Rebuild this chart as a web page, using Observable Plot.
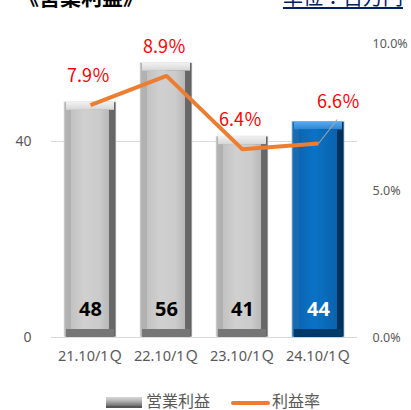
<!DOCTYPE html>
<html><head><meta charset="utf-8">
<script src="https://cdn.jsdelivr.net/npm/d3@7"></script>
<script src="https://cdn.jsdelivr.net/npm/@observablehq/plot@0.6"></script>
<style>
body{margin:0;width:411px;height:410px;overflow:hidden;background:#fff;position:relative;font-family:"Noto Sans","Noto Sans CJK JP",sans-serif}
#chart{position:absolute;left:0;top:0}
.t1{position:absolute;left:18px;top:-19px;font:bold 21px "Noto Sans CJK JP";color:#000;white-space:nowrap}
.t2{position:absolute;left:283px;top:-18px;font:20px "Noto Sans CJK JP";color:#002060;white-space:nowrap;text-decoration:underline;text-decoration-thickness:2px;text-underline-offset:2px}
.lg{position:absolute;top:388px;font:16px "Noto Sans CJK JP";color:#595959;white-space:nowrap}
</style></head><body>
<div class="t1">《営業利益》</div>
<div class="t2">単位：百万円</div>
<div id="chart"></div>
<div class="lg" style="left:106px;"><span style="display:inline-block;width:36px;height:9px;vertical-align:middle;background:linear-gradient(#d8d8d8,#b8b8b8 40%,#6e6e6e);border-bottom:2px solid #555;margin-right:4px"></span>営業利益</div>
<div class="lg" style="left:231px;"><span style="display:inline-block;width:39px;height:4px;vertical-align:middle;background:#ed7d31;border-radius:2px;margin-right:2px"></span>利益率</div>
<script>
const quarters = ["21.10/1Ｑ","22.10/1Ｑ","23.10/1Ｑ","24.10/1Ｑ"];
const profit = [48, 56, 41, 44];
const rate = [7.9, 8.9, 6.4, 6.6];
const leftTicks = [0, 40];
const rightTicks = [0, 5, 10];
const highlight = [false, false, false, true];

const RATE_K = 6; // 10% on the right axis aligns with 60 on the left
const data = quarters.map((q, i) => ({q, v: profit[i], r: rate[i], hi: highlight[i]}));
const normal = data.filter(d => !d.hi);
const last = data.filter(d => d.hi);
const pct = d => d.r.toFixed(1) + "％";
const leader = {draw(context, l) { context.moveTo(0, 0); context.lineTo(0, -l); }};

const plot = Plot.plot({
  width: 411, height: 375,
  marginLeft: 51, marginRight: 54, marginTop: 43, marginBottom: 38,
  style: {fontFamily: '"Noto Sans","Noto Sans CJK JP",sans-serif', background: "transparent"},
  x: {domain: quarters, paddingInner: 0.32, paddingOuter: 0.16, label: null},
  y: {domain: [0, 60], label: null},
  marks: [
    Plot.ruleY(leftTicks, {stroke: "#d9d9d9", strokeWidth: 1}),
    Plot.barY(data, {x: "q", y: "v", fill: d => d.hi ? "url(#blueEdge)" : "url(#grayEdge)", stroke: d => d.hi ? "#9dc3e6" : "#e6e6e6", strokeWidth: 0.8}),
    Plot.barY(data, {x: "q", y1: "v", y2: "v", insetBottom: -8, insetLeft: 2, insetRight: 2, fill: d => d.hi ? "url(#blueTop)" : "url(#grayTop)"}),
    Plot.barY(data, {x: "q", y1: 0, y2: 0, insetTop: -8, insetLeft: 2, insetRight: 2, fill: d => d.hi ? "#003a6b" : "#767676"}),
    Plot.barY(data, {x: "q", y: "v", insetLeft: 7, insetRight: 7, insetTop: 8, insetBottom: 8, fill: d => d.hi ? "url(#blueFace)" : "url(#grayFace)"}),
    Plot.text(data, {x: "q", y: 0, dy: -28, text: d => String(d.v), fill: d => d.hi ? "#fff" : "#000", fontWeight: "bold", fontSize: 20}),
    Plot.vector(last, {x: "q", y: d => d.r * RATE_K, length: 30, rotate: 38, anchor: "start", shape: leader, stroke: "#a6a6a6", strokeWidth: 1}),
    Plot.line(data, {x: "q", y: d => d.r * RATE_K, stroke: "#ed7d31", strokeWidth: 4, strokeLinejoin: "miter", strokeLinecap: "butt"}),
    Plot.text(normal, {x: "q", y: d => d.r * RATE_K, text: pct, fill: "#ff0000", fontSize: 18, dx: -2, dy: -29, fontFamily: '"Noto Sans CJK JP",sans-serif'}),
    Plot.text(last, {x: "q", y: d => d.r * RATE_K, text: pct, fill: "#ff0000", fontSize: 18, dx: 20, dy: -41, fontFamily: '"Noto Sans CJK JP",sans-serif'}),
    Plot.axisX({tickSize: 0, tickPadding: 13, fontSize: 14.5, fill: "#595959"}),
    Plot.axisY(leftTicks, {anchor: "left", tickSize: 0, tickPadding: 20, fontSize: 14, fill: "#595959", label: null}),
    Plot.axisY(rightTicks.map(t => t * RATE_K), {anchor: "right", tickSize: 0, tickPadding: 15, fontSize: 12.5, fill: "#595959", label: null,
      tickFormat: d => (d / RATE_K).toFixed(1) + "%"})
  ]
});

const svg = d3.select(plot);
const defs = svg.insert("defs", ":first-child");
function lg(id, stops, vertical) {
  const g = defs.append("linearGradient").attr("id", id).attr("x1", 0).attr("y1", 0)
    .attr("x2", vertical ? 0 : 1).attr("y2", vertical ? 1 : 0);
  stops.forEach(([o, c]) => g.append("stop").attr("offset", o).attr("stop-color", c));
}
lg("grayEdge", [[0, "#b4b4b4"], [0.49, "#a6a6a6"], [0.51, "#7a7a7a"], [1, "#636363"]]);
lg("grayTop", [[0, "#f2f2f2"], [1, "#d6d6d6"]], true);
lg("grayFace", [[0, "#c2c2c2"], [0.35, "#d0d0d0"], [0.75, "#cbcbcb"], [1, "#b8b8b8"]]);
lg("blueEdge", [[0, "#1b6eb5"], [0.49, "#145d9c"], [0.51, "#003f73"], [1, "#002f57"]]);
lg("blueTop", [[0, "#5aaaf0"], [1, "#2b86d4"]], true);
lg("blueFace", [[0, "#0a66b4"], [0.4, "#0b72c6"], [1, "#0863ae"]]);
document.getElementById("chart").append(plot);
</script>
</body></html>
